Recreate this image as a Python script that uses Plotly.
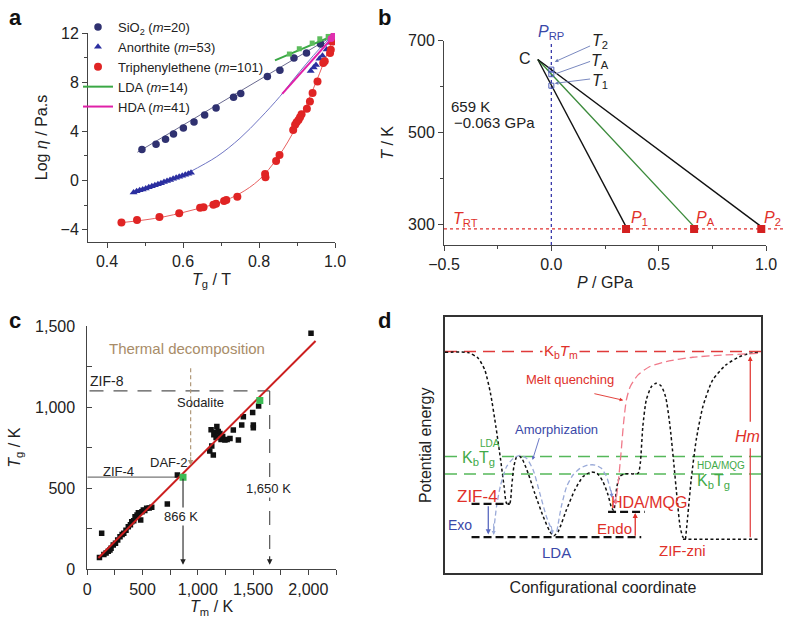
import plotly.graph_objects as go

FONT = "Liberation Sans, Arial, sans-serif"
INK = "#222222"
RED = "#e0302a"
BLUE = "#3a48a8"
GREEN = "#3faa48"

# ---------------- Panel a data ----------------
sio2_x = [0.492, 0.529, 0.554, 0.575, 0.601, 0.629, 0.657, 0.687, 0.733, 0.752, 0.822, 0.855, 0.892, 0.925, 0.962, 0.996]
sio2_y = [2.52, 2.95, 3.36, 3.79, 4.28, 4.77, 5.34, 5.89, 6.78, 7.08, 8.47, 8.96, 9.96, 10.37, 11.10, 11.73]
sio2_fit_x = [0.48, 1.0]
sio2_fit_y = [2.30, 11.85]

anor_x = [0.470, 0.478, 0.486, 0.494, 0.502, 0.510, 0.518, 0.526, 0.534, 0.542, 0.550, 0.558, 0.566, 0.574,
          0.582, 0.590, 0.598, 0.606, 0.614, 0.621, 0.936, 0.944, 0.950, 0.959, 0.967, 0.978, 0.987]
anor_y = [-0.98, -0.88, -0.80, -0.72, -0.64, -0.55, -0.47, -0.38, -0.30, -0.22, -0.12, -0.04, 0.05, 0.14,
          0.22, 0.30, 0.38, 0.46, 0.55, 0.64, 8.90, 9.20, 9.40, 9.90, 10.15, 10.65, 11.20]
anor_fit_x = [0.614, 0.689, 0.750, 0.803, 0.855, 0.890, 0.926, 0.961, 0.996]
anor_fit_y = [0.64, 1.95, 3.44, 5.07, 6.84, 8.20, 9.55, 10.78, 11.86]

tph_x = [0.438, 0.479, 0.538, 0.590, 0.645, 0.654, 0.680, 0.687, 0.708, 0.714, 0.743, 0.816, 0.817, 0.845, 0.854,
         0.890, 0.895, 0.899, 0.904, 0.908, 0.912, 0.926, 0.934, 0.941, 0.954, 0.969, 0.973, 0.987, 0.989, 0.993, 0.998]
tph_y = [-3.41, -3.22, -2.97, -2.67, -2.21, -2.18, -1.96, -1.88, -1.67, -1.59, -1.32, 0.53, 0.26, 1.59, 2.08,
         4.12, 4.53, 4.75, 4.93, 5.15, 5.40, 5.84, 6.43, 7.11, 8.06, 9.55, 9.70, 10.37, 10.64, 11.30, 11.73]
tph_fit_x = [0.43, 0.50, 0.55, 0.60, 0.65, 0.70, 0.75, 0.80, 0.85, 0.90, 0.95, 1.00]
tph_fit_y = [-3.45, -3.20, -2.95, -2.60, -2.20, -1.75, -1.05, 0.05, 1.90, 4.50, 8.00, 12.0]

lda_x = [0.880, 0.906, 0.940, 0.960, 0.982]
lda_y = [10.29, 10.72, 11.18, 11.53, 11.72]
lda_fit_x = [0.842, 1.0]
lda_fit_y = [9.77, 11.85]

hda_x = [0.990, 0.996, 1.0]
hda_y = [11.55, 11.75, 11.85]
hda_fit_x = [0.861, 1.0]
hda_fit_y = [7.05, 11.86]

# ---------------- Panel b data ----------------
c_point = (-0.063, 659)
p_end_x = [0.348, 0.665, 0.978]
p_end_y = [290, 290, 290]
t_int_y = [602, 627, 637]
t_rt = 290

# ---------------- Panel c data ----------------
tm_c = [110, 130, 150, 170, 190, 205, 215, 235, 255, 275, 296, 315, 330, 350, 371, 390, 402, 420, 432, 450, 462, 483,
        495, 507, 520, 537, 560, 583, 724, 815,
        1108, 1120, 1126, 1140, 1145, 1155, 1165, 1172, 1185, 1200, 1210, 1225, 1245, 1265, 1291, 1321, 1367, 1397,
        1412, 1496, 1502, 1502, 1550, 2024]
tg_c = [72, 222, 92, 100, 112, 119, 130, 150, 160, 180, 201, 215, 222, 240, 263, 275, 293, 300, 324, 335, 349, 304,
        355, 366, 362, 376, 378, 382, 403, 581,
        730, 860, 760, 705, 830, 845, 812, 880, 850, 838, 800, 818, 797, 800, 807, 859, 797, 890,
        941, 966, 890, 872, 1007, 1455]
green_tm = [866, 1561]
green_tg = [568, 1040]
fit_tm = [100, 2065]
fit_tg = [70, 1408]

# ---------------- Panel d data (schematic, 0-100 units) ----------------
pes_x = [0, 7.4, 10.5, 12.6, 14.4, 16.1, 17.6, 18.7, 19.5, 20.5, 21.1, 21.8, 22.6, 23.5, 24.5, 26.3, 28.4, 31.1, 33.2,
         34.4, 35.8, 38.4, 41.1, 43.7, 46.3, 48.1, 50.0, 51.6, 52.6, 53.4, 54.4, 55.3, 56.8, 61.1, 61.8, 62.6, 63.7,
         65.3, 66.8, 68.4, 69.8, 71.1, 72.3, 73.5, 74.4, 75.3, 76.1]
pes_y = [86.3, 86.2, 84.0, 79.4, 70.3, 57.3, 44.3, 33.9, 27.3, 27.3, 33.9, 41.7, 45.3, 45.8, 44.5, 39.1, 31.3, 22.1,
         16.3, 14.6, 16.3, 24.7, 32.6, 37.8, 39.6, 39.1, 35.8, 30.6, 26.0, 24.5, 33.9, 37.8, 38.8, 39.1, 43.0, 57.3,
         67.7, 72.9, 74.2, 73.2, 69.0, 58.6, 44.3, 28.6, 18.2, 14.1, 13.3]
wall_x = [76.1, 76.8, 77.9, 79.5, 81.6, 84.7, 88.9, 93.2, 96.3, 99.5]
wall_y = [13.3, 22.1, 36.5, 52.1, 65.1, 75.5, 81.4, 84.6, 85.9, 86.3]
amor1_x = [15.4, 16.3, 17.6, 19.5, 21.6, 23.7, 25.8, 27.9, 30.0, 32.1, 34.0]
amor1_y = [16.3, 26.0, 34.5, 41.7, 44.9, 46.1, 44.9, 40.4, 31.3, 22.1, 16.3]
amor2_x = [35.4, 36.8, 38.5, 40.5, 42.7, 45.3, 47.5, 49.5, 51.1, 52.1, 52.7]
amor2_y = [16.3, 26.0, 33.9, 38.4, 41.0, 42.3, 42.3, 41.0, 37.8, 33.9, 30.6]
melt_x = [98.9, 88.9, 78.4, 70.0, 64.7, 61.1, 58.6, 57.4, 56.5, 55.7, 54.8, 54.0]
melt_y = [85.9, 85.3, 84.4, 82.7, 80.7, 77.5, 72.9, 67.7, 58.6, 46.9, 35.2, 27.3]
lvl_zif4 = ([8.4, 20.5], 27.1)
lvl_lda = ([8.4, 62.1], 14.1)
lvl_hda = ([51.6, 63.2], 24.0)
lvl_zni = ([75.3, 99.0], 13.3)
kbtm = 86.6
kbtg_lda = 45.6
kbtg_hda = 38.8

fig = go.Figure()

# ---- panel a traces ----
fig.add_trace(go.Scatter(x=sio2_fit_x, y=sio2_fit_y, mode="lines", line=dict(color="#6a6a90", width=1),
                         showlegend=False, hoverinfo="skip"))
fig.add_trace(go.Scatter(x=anor_fit_x, y=anor_fit_y, mode="lines", line=dict(color="#7076c4", width=1, shape="spline"),
                         showlegend=False, hoverinfo="skip"))
fig.add_trace(go.Scatter(x=tph_fit_x, y=tph_fit_y, mode="lines", line=dict(color="#e86060", width=1, shape="spline"),
                         showlegend=False, hoverinfo="skip"))
fig.add_trace(go.Scatter(x=sio2_x, y=sio2_y, mode="markers", name="SiO<sub>2</sub> (<i>m</i>=20)",
                         marker=dict(symbol="circle", size=7.5, color="#2f3170")))
fig.add_trace(go.Scatter(x=anor_x, y=anor_y, mode="markers", name="Anorthite (<i>m</i>=53)",
                         marker=dict(symbol="triangle-up", size=7, color="#2b2fa0")))
fig.add_trace(go.Scatter(x=tph_x, y=tph_y, mode="markers", name="Triphenylethene (<i>m</i>=101)",
                         marker=dict(symbol="circle", size=8, color="#e02424")))
fig.add_trace(go.Scatter(x=lda_fit_x, y=lda_fit_y, mode="lines", name="LDA (<i>m</i>=14)",
                         line=dict(color="#3aa845", width=2)))
fig.add_trace(go.Scatter(x=lda_x, y=lda_y, mode="markers", showlegend=False,
                         marker=dict(symbol="square", size=5, color="#5cbc5c")))
fig.add_trace(go.Scatter(x=hda_fit_x, y=hda_fit_y, mode="lines", name="HDA (<i>m</i>=41)",
                         line=dict(color="#e020a8", width=2)))
fig.add_trace(go.Scatter(x=hda_x, y=hda_y, mode="markers", showlegend=False,
                         marker=dict(symbol="circle", size=7, color="#e030b0")))

# ---- panel b traces ----
line_cols = ["#111111", "#3a8a3a", "#111111"]
for px, py, col in zip(p_end_x, p_end_y, line_cols):
    fig.add_trace(go.Scatter(x=[c_point[0], px], y=[c_point[1], py + 5], mode="lines", xaxis="x2", yaxis="y2",
                             line=dict(color=col, width=1.4), showlegend=False, hoverinfo="skip"))
fig.add_trace(go.Scatter(x=p_end_x, y=p_end_y, mode="markers", xaxis="x2", yaxis="y2", showlegend=False,
                         marker=dict(symbol="square", size=8, color="#d42020")))
fig.add_trace(go.Scatter(x=[0, 0, 0], y=t_int_y, mode="markers", xaxis="x2", yaxis="y2", showlegend=False,
                         marker=dict(symbol="square-open", size=5, color="#5060b8", line=dict(width=1))))

# ---- panel c traces ----
fig.add_trace(go.Scatter(x=tm_c, y=tg_c, mode="markers", xaxis="x3", yaxis="y3", showlegend=False,
                         marker=dict(symbol="square", size=5.5, color="#111111")))
fig.add_trace(go.Scatter(x=fit_tm, y=fit_tg, mode="lines", xaxis="x3", yaxis="y3", showlegend=False,
                         line=dict(color="#cc1f1f", width=2)))
fig.add_trace(go.Scatter(x=green_tm, y=green_tg, mode="markers", xaxis="x3", yaxis="y3", showlegend=False,
                         marker=dict(symbol="square", size=7, color="#3dbb55")))

# ---- panel d traces ----
def dline(x, y, color, dash, width=1.5, shape="linear"):
    fig.add_trace(go.Scatter(x=x, y=y, mode="lines", xaxis="x4", yaxis="y4", showlegend=False, hoverinfo="skip",
                             line=dict(color=color, dash=dash, width=width, shape=shape, smoothing=0.6)))

dline([0, 100], [kbtm, kbtm], "#e03a3a", "12px,7px", 1.5)
dline([0, 100], [kbtg_lda, kbtg_lda], "#55b85a", "12px,7px", 1.5)
dline([0, 100], [kbtg_hda, kbtg_hda], "#55b85a", "12px,7px", 1.5)
dline(pes_x, pes_y, "#111111", "3px,2.5px", 1.5, "spline")
dline(wall_x, wall_y, "#111111", "3px,2.5px", 1.5, "spline")
dline(amor1_x, amor1_y, "#9aaad8", "5px,3px", 1.3, "spline")
dline(amor2_x, amor2_y, "#9aaad8", "5px,3px", 1.3, "spline")
dline(melt_x, melt_y, "#f07a8a", "8px,4px", 1.3, "spline")
for xs, yv in [lvl_zif4, lvl_lda, lvl_hda]:
    dline(xs, [yv, yv], "#111111", "8px,4px", 2.2)
dline(lvl_zni[0], [lvl_zni[1], lvl_zni[1]], "#111111", "3px,2.5px", 1.6)
dline([96.6, 96.6], [14.1, 48.8], "#e03a3a", "solid", 1.2)

# ---------------- Annotations ----------------
ann = []

def txt(x, y, text, xr, yr, size=14, color=INK, **kw):
    d = dict(x=x, y=y, xref=xr, yref=yr, text=text, showarrow=False, xanchor="center", yanchor="middle",
             font=dict(family=FONT, size=size, color=color))
    d.update(kw)
    ann.append(d)

def arrow(x0, y0, x1, y1, xr, yr, color, width=1.2, head=2, size=1.0):
    ann.append(dict(x=x1, y=y1, ax=x0, ay=y0, xref=xr, yref=yr, axref=xr, ayref=yr, text="",
                    showarrow=True, arrowhead=head, arrowsize=size, arrowwidth=width, arrowcolor=color))

# panel letters
for lx, ly, lt in [(15, 17, "a"), (384, 17, "b"), (15, 320, "c"), (384, 320, "d")]:
    txt(lx / 786, 1 - ly / 631, "<b>%s</b>" % lt, "paper", "paper", size=22, color="#111")

# panel b texts
txt(-0.125, 662, "C", "x2", "y2", size=16)
txt(-0.475, 557, "659 K", "x2", "y2", size=15, xanchor="left")
txt(-0.465, 522, "\u22120.063 GPa", "x2", "y2", size=15, xanchor="left")
txt(-0.40, 310, "<i>T</i><sub>RT</sub>", "x2", "y2", size=16, color=RED)
txt(0.41, 313, "<i>P</i><sub>1</sub>", "x2", "y2", size=16, color=RED)
txt(0.72, 313, "<i>P</i><sub>A</sub>", "x2", "y2", size=16, color=RED)
txt(772 / 786, 313, "<i>P</i><sub>2</sub>", "paper", "y2", size=16, color=RED)
txt(0.0, 1 - 32 / 631, "<i>P</i><sub>RP</sub>", "x2", "paper", size=16, color=BLUE)
txt(0.225, 1 - 41 / 631, "<i>T</i><sub>2</sub>", "x2", "paper", size=16)
txt(0.225, 655, "<i>T</i><sub>A</sub>", "x2", "y2", size=16)
txt(0.225, 612, "<i>T</i><sub>1</sub>", "x2", "y2", size=16)
arrow(0.1875, 690, 0.016, 654, "x2", "y2", "#6a7ab8", 0.9, 2, 0.8)
arrow(0.1875, 656, 0.02, 628, "x2", "y2", "#6a7ab8", 0.9, 0, 0.8)
arrow(0.1875, 617, 0.016, 607, "x2", "y2", "#6a7ab8", 0.9, 2, 0.8)

# panel c texts
txt(900, 1362, "Thermal decomposition", "x3", "y3", size=15, color="#a88c68")
txt(180, 1160, "ZIF-8", "x3", "y3", size=14)
txt(1020, 1027, "Sodalite", "x3", "y3", size=13)
txt(740, 660, "DAF-2", "x3", "y3", size=13)
txt(280, 604, "ZIF-4", "x3", "y3", size=13)
arrow(866, 568, 866, 28, "x3", "y3", "#222", 1.1, 2, 1.0)
txt(850, 325, "866 K", "x3", "y3", size=13, bgcolor="white")
arrow(1650, 90, 1650, 28, "x3", "y3", "#222", 1.1, 2, 1.0)
txt(1638, 500, "1,650 K", "x3", "y3", size=13, bgcolor="white")
arrow(935, 700, 935, 640, "x3", "y3", "#b09878", 1.1, 2, 1.0)

# panel d texts
txt(36.8, 86.6, "K<sub>b</sub><i>T</i><sub>m</sub>", "x4", "y4", size=15, color=RED, bgcolor="white")
txt(39.7, 75.8, "Melt quenching", "x4", "y4", size=13, color=RED)
arrow(46.8, 70.3, 56.4, 67.6, "x4", "y4", RED, 0.9, 2, 0.8)
txt(35.3, 56.0, "Amorphization", "x4", "y4", size=13, color=BLUE)
arrow(30.0, 53.4, 27.7, 44.3, "x4", "y4", "#5a6ac0", 0.9, 2, 0.8)
txt(14.2, 50.6, "LDA", "x4", "y4", size=10, color=GREEN)
txt(10.5, 45.0, "K<sub>b</sub>T<sub>g</sub>", "x4", "y4", size=16, color=GREEN, bgcolor="white")
txt(87.4, 42.3, "HDA/MQG", "x4", "y4", size=10, color=GREEN)
txt(85.0, 36.0, "K<sub>b</sub>T<sub>g</sub>", "x4", "y4", size=16, color=GREEN)
txt(10.2, 29.9, "ZIF-4", "x4", "y4", size=17, color=RED)
txt(4.7, 18.8, "Exo", "x4", "y4", size=14, color=BLUE)
txt(35.3, 8.3, "LDA", "x4", "y4", size=15, color=BLUE)
txt(53.7, 17.4, "Endo", "x4", "y4", size=15, color=RED)
txt(64.7, 27.7, "HDA/MQG", "x4", "y4", size=16, color=RED)
txt(75.3, 8.9, "ZIF-zni", "x4", "y4", size=15, color=RED)
txt(95.8, 53.4, "<i>Hm</i>", "x4", "y4", size=16, color=RED)
arrow(96.6, 58.6, 96.6, 84.8, "x4", "y4", RED, 1.2, 2, 0.8)
arrow(13.7, 26.8, 13.7, 15.2, "x4", "y4", "#5a6ac0", 1.3, 2, 0.8)
arrow(15.4, 20.0, 15.4, 15.0, "x4", "y4", "#9aaad8", 1.0, 2, 0.8)
arrow(33.6, 19.0, 34.0, 15.2, "x4", "y4", "#9aaad8", 1.0, 2, 0.8)
arrow(52.5, 33.0, 52.8, 29.5, "x4", "y4", "#7a8ad0", 1.0, 2, 0.8)
arrow(54.2, 31.0, 54.0, 26.8, "x4", "y4", "#f07a8a", 1.0, 2, 0.8)
arrow(60.2, 14.1, 60.2, 23.6, "x4", "y4", RED, 1.3, 2, 0.8)

# ---------------- Shapes ----------------
shapes = []
shapes.append(dict(type="line", xref="paper", yref="y2", x0=444 / 786, x1=1.0, y0=t_rt, y1=t_rt,
                   line=dict(color="#e03030", width=1.3, dash="dot"), layer="below"))
shapes.append(dict(type="line", xref="x2", yref="y2", x0=0, x1=0, y0=255, y1=697,
                   line=dict(color="#3a3aaa", width=1.3, dash="dot"), layer="below"))
shapes.append(dict(type="line", xref="x3", yref="y3", x0=20, x1=1650, y0=1100, y1=1100,
                   line=dict(color="#555", width=1.2, dash="14px,10px"), layer="below"))
shapes.append(dict(type="line", xref="x3", yref="y3", x0=1650, x1=1650, y0=1100, y1=80,
                   line=dict(color="#555", width=1.2, dash="14px,10px"), layer="below"))
shapes.append(dict(type="line", xref="x3", yref="y3", x0=0, x1=866, y0=568, y1=568,
                   line=dict(color="#777", width=1.4), layer="below"))
shapes.append(dict(type="line", xref="x3", yref="y3", x0=935, x1=935, y0=1240, y1=680,
                   line=dict(color="#b09878", width=1.2, dash="4px,3px"), layer="below"))

ax_common = dict(showline=True, linecolor="#444", linewidth=1, ticks="outside", ticklen=5, tickcolor="#444",
                 showgrid=False, zeroline=False, automargin=False,
                 tickfont=dict(family=FONT, size=16, color=INK),
                 title_font=dict(family=FONT, size=16, color=INK))

fig.update_layout(
    width=786, height=631, margin=dict(l=0, r=0, t=0, b=0, autoexpand=False),
    paper_bgcolor="white", plot_bgcolor="white",
    font=dict(family=FONT, color=INK),
    showlegend=True,
    legend=dict(x=78 / 786, y=1 - 12 / 631, xanchor="left", yanchor="top", bgcolor="rgba(0,0,0,0)",
                font=dict(family=FONT, size=13, color=INK), tracegroupgap=0, itemwidth=30),
    xaxis=dict(ax_common, domain=[88 / 786, 335 / 786], range=[0.35, 1.0], tickvals=[0.4, 0.6, 0.8, 1.0],
               ticktext=["0.4", "0.6", "0.8", "1.0"], minor=dict(dtick=0.1, tick0=0.4, ticks="outside", ticklen=3),
               title=dict(text="<i>T</i><sub>g</sub> / T", standoff=4), anchor="y"),
    yaxis=dict(ax_common, domain=[1 - 242 / 631, 1 - 33 / 631], range=[-5, 12.0], tickvals=[-4, 0, 4, 8, 12],
               ticktext=["\u22124", "0", "4", "8", "12"], minor=dict(dtick=2, tick0=0, ticks="outside", ticklen=3),
               title=dict(text="Log <i>\u03b7</i> / Pa.s", standoff=8), anchor="x"),
    xaxis2=dict(ax_common, domain=[444 / 786, 766 / 786], range=[-0.5, 1.0], tickvals=[-0.5, 0, 0.5, 1.0],
                ticktext=["\u22120.5", "0.0", "0.5", "1.0"], minor=dict(dtick=0.25, tick0=0, ticks="outside", ticklen=3),
                title=dict(text="<i>P</i> / GPa", standoff=4), anchor="y2"),
    yaxis2=dict(ax_common, domain=[1 - 245 / 631, 1 - 40.7 / 631], range=[255, 700], tickvals=[300, 500, 700],
                minor=dict(dtick=100, tick0=300, ticks="outside", ticklen=3),
                title=dict(text="<i>T</i> / K", standoff=10), anchor="x2"),
    xaxis3=dict(ax_common, domain=[87.3 / 786, 336 / 786], range=[0, 2250], tickvals=[0, 500, 1000, 1500, 2000],
                tickformat=",d", minor=dict(dtick=250, tick0=0, ticks="outside", ticklen=5),
                title=dict(text="<i>T</i><sub>m</sub> / K", standoff=4), anchor="y3"),
    yaxis3=dict(ax_common, domain=[1 - 569.3 / 631, 1 - 326 / 631], range=[0, 1500], tickvals=[0, 500, 1000, 1500],
                tickformat=",d", ticks="inside", minor=dict(dtick=250, tick0=0, ticks="inside", ticklen=5),
                ticklabelstandoff=8,
                title=dict(text="<i>T</i><sub>g</sub> / K", standoff=10), anchor="x3"),
    xaxis4=dict(domain=[445 / 786, 761 / 786], range=[0, 100], showline=True, mirror=True, linecolor="#333",
                linewidth=1.5, showticklabels=False, ticks="", showgrid=False, zeroline=False, automargin=False,
                title=dict(text="Configurational coordinate", standoff=8, font=dict(family=FONT, size=16, color=INK)),
                anchor="y4"),
    yaxis4=dict(domain=[1 - 573.3 / 631, 1 - 317.3 / 631], range=[0, 100], showline=True, mirror=True,
                linecolor="#333", linewidth=1.5, showticklabels=False, ticks="", showgrid=False, zeroline=False,
                automargin=False,
                title=dict(text="Potential energy", standoff=8, font=dict(family=FONT, size=16, color=INK)),
                anchor="x4"),
    annotations=ann,
    shapes=shapes,
)

fig.write_html("out.html", config={"displayModeBar": False},
               post_script="document.body.style.margin='0px';document.body.style.overflow='hidden';")
